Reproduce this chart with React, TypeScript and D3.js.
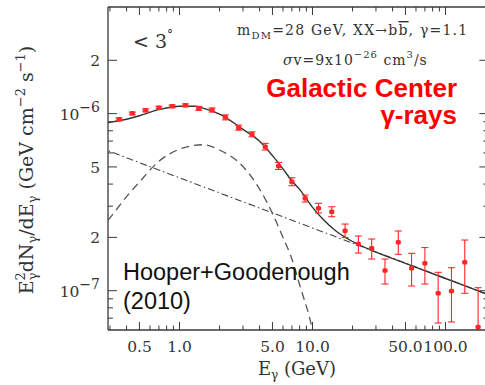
import React from "react";
import * as d3 from "d3";

// Binned Fermi-LAT spectrum, inner 3 degrees (E in GeV, E^2 dN/dE in GeV cm^-2 s^-1)
const energies = [
  0.351, 0.442, 0.556, 0.7, 0.881, 1.109, 1.396, 1.758, 2.213, 2.786, 3.508, 4.416, 5.559, 6.998,
  8.81, 11.09, 13.96, 17.58, 22.13, 27.86, 35.08, 44.16, 55.59, 69.98, 88.1, 110.9, 139.6, 175.8,
];
const fluxes = [
  0.929e-6, 1.004e-6, 1.044e-6, 1.08e-6, 1.1e-6, 1.114e-6, 1.071e-6, 1.048e-6, 0.953e-6, 0.833e-6,
  0.764e-6, 0.65e-6, 0.506e-6, 0.4125e-6, 0.333e-6, 0.292e-6, 0.279e-6, 0.218e-6, 0.1835e-6,
  0.1735e-6, 0.13e-6, 0.1876e-6, 0.1338e-6, 0.1428e-6, 0.0967e-6, 0.0996e-6, 0.1447e-6, 0.0624e-6,
];
const fluxHigh = [
  0.947e-6, 1.02e-6, 1.064e-6, 1.1e-6, 1.12e-6, 1.135e-6, 1.099e-6, 1.076e-6, 0.984e-6, 0.861e-6,
  0.789e-6, 0.679e-6, 0.53e-6, 0.4345e-6, 0.347e-6, 0.3115e-6, 0.298e-6, 0.2379e-6, 0.2036e-6,
  0.1958e-6, 0.151e-6, 0.2174e-6, 0.1626e-6, 0.1753e-6, 0.127e-6, 0.1349e-6, 0.1933e-6, 0.104e-6,
];
const fluxLow = [
  0.911e-6, 0.984e-6, 1.024e-6, 1.06e-6, 1.08e-6, 1.093e-6, 1.044e-6, 1.021e-6, 0.922e-6, 0.806e-6,
  0.74e-6, 0.623e-6, 0.484e-6, 0.3916e-6, 0.3168e-6, 0.2747e-6, 0.2617e-6, 0.1997e-6, 0.1632e-6,
  0.151e-6, 0.1091e-6, 0.1605e-6, 0.1063e-6, 0.1091e-6, 0.0657e-6, 0.0666e-6, 0.0967e-6, 0.035e-6,
];

// Dark matter annihilation component (dashed)
const dmEnergies = [0.25, 0.3, 0.4, 0.5, 0.7, 1.0, 1.5, 2, 3, 4, 5, 6, 7, 8, 10, 10.5];
const dmFlux = [
  2.2e-7, 2.58e-7, 3.4e-7, 4.11e-7, 5.38e-7, 6.3e-7, 6.67e-7, 6.23e-7, 5.03e-7, 3.75e-7, 2.73e-7,
  2.0e-7, 1.51e-7, 1.08e-7, 6.0e-8, 5.0e-8,
];

// Astrophysical background power law (dash-dot)
const bgEnergies = [0.25, 0.29, 10, 200, 230];
const bgFlux = [6.45e-7, 6.18e-7, 2.26e-7, 9.63e-8, 9.25e-8];

// Total model (solid)
const totEnergies = [
  0.25, 0.29, 0.4, 0.5, 0.7, 1.0, 1.3, 1.5, 2, 3, 4, 5, 6, 7, 8, 10, 12, 15, 20, 30, 50, 100, 200, 230,
];
const totFlux = [
  8.8e-7, 8.9e-7, 9.29e-7, 9.73e-7, 1.053e-6, 1.101e-6, 1.1e-6, 1.074e-6, 0.9935e-6, 0.8155e-6,
  0.6977e-6, 0.5793e-6, 0.488e-6, 0.4163e-6, 0.3735e-6, 0.2954e-6, 0.2533e-6, 0.2174e-6, 0.1896e-6,
  0.1652e-6, 0.1428e-6, 0.1172e-6, 0.0963e-6, 0.0925e-6,
];

const xTickValues = [0.5, 1, 5, 10, 50, 100];
const xTickLabels = ["0.5", "1.0", "5.0", "10.0", "50.0", "100.0"];
const yTickValues = [2e-6, 1e-6, 5e-7, 2e-7, 1e-7];
const yTickMantissa = ["2", "10", "5", "2", "10"];
const yTickExponent = ["", "\u22126", "", "", "\u22127"];

const W = 485;
const H = 385;
const left = 108;
const top = 7;
const bottom = 330;
const decade = 133;
const xMin = 0.29;
const xMax = 210;

const x = d3
  .scaleLog()
  .domain([xMin, xMax])
  .range([left, left + decade * Math.log10(xMax / xMin)]);
const y = d3.scaleLog().domain([6e-8, 4e-6]).range([bottom, top]);
const right = x(xMax);

const serif = "'DejaVu Serif', serif";
const sans = "'Liberation Sans', Arial, sans-serif";
const axisColor = "#3a3a3a";
const red = "#ff2626";

function curve(es: number[], vs: number[]) {
  const line = d3
    .line<number>()
    .x((_, i) => x(es[i]))
    .y((v) => y(v))
    .curve(d3.curveMonotoneX);
  return line(vs) || "";
}

export default function App() {
  const xMinor = x.ticks().filter((t) => t > xMin && t < xMax);
  const yMinor = y.ticks().filter((t) => t > 6e-8 && t < 2.5e-6);
  const isMajorX = (t: number) => xTickValues.some((v) => Math.abs(v - t) / v < 1e-6);
  const isMajorY = (t: number) => yTickValues.some((v) => Math.abs(v - t) / v < 1e-6);

  return (
    <svg
      width={W}
      height={H}
      style={{ position: "absolute", left: 0, top: 0, background: "#fff" }}
    >
      <defs>
        <clipPath id="plotArea">
          <rect x={left} y={top} width={right - left} height={bottom - top} />
        </clipPath>
      </defs>

      {/* model curves */}
      <g clipPath="url(#plotArea)" fill="none">
        <path
          d={curve(bgEnergies, bgFlux)}
          stroke="#444"
          strokeWidth={1.1}
          strokeDasharray="7 3 1.5 3"
        />
        <path
          d={curve(dmEnergies, dmFlux)}
          stroke="#555"
          strokeWidth={1.3}
          strokeDasharray="8 5"
        />
        <path d={curve(totEnergies, totFlux)} stroke="#333" strokeWidth={1.4} />
      </g>

      {/* data with error bars */}
      <g clipPath="url(#plotArea)">
        {energies.map((e, i) => {
          const cx = x(e);
          const yh = y(fluxHigh[i]);
          const yl = y(fluxLow[i]);
          return (
            <g key={i}>
              <line x1={cx} x2={cx} y1={yh} y2={yl} stroke={red} strokeWidth={1.1} />
              <line x1={cx - 3.5} x2={cx + 3.5} y1={yh} y2={yh} stroke={red} strokeWidth={1.1} />
              <line x1={cx - 3.5} x2={cx + 3.5} y1={yl} y2={yl} stroke={red} strokeWidth={1.1} />
              <rect
                x={cx - 2.6}
                y={y(fluxes[i]) - 2.3}
                width={5.2}
                height={4.6}
                rx={1.5}
                fill={red}
              />
            </g>
          );
        })}
      </g>

      {/* frame */}
      <g stroke={axisColor} strokeWidth={1.3} fill="none">
        <line x1={left} x2={left} y1={top} y2={bottom} />
        <line x1={left} x2={right} y1={bottom} y2={bottom} />
        <line x1={left} x2={right} y1={top} y2={top} />
        <line x1={right} x2={right} y1={top} y2={bottom} />
      </g>

      {/* ticks on all four sides */}
      <g stroke={axisColor} strokeWidth={1}>
        {xMinor.map((t, i) => {
          const len = isMajorX(t) ? 8 : 4.5;
          const px = x(t);
          return (
            <g key={i}>
              <line x1={px} x2={px} y1={bottom} y2={bottom - len} />
              <line x1={px} x2={px} y1={top} y2={top + len} />
            </g>
          );
        })}
        {yMinor.map((t, i) => {
          const len = isMajorY(t) ? 9 : 5;
          const py = y(t);
          return (
            <g key={i}>
              <line x1={left} x2={left + len} y1={py} y2={py} />
              <line x1={right} x2={right - len} y1={py} y2={py} />
            </g>
          );
        })}
      </g>

      {/* tick labels */}
      <g fontFamily={serif} fill="#333">
        {xTickValues.map((t, i) => (
          <text key={i} x={x(t)} y={352} textAnchor="middle" fontSize={15.5}>
            {xTickLabels[i]}
          </text>
        ))}
        {yTickValues.map((t, i) => (
          <text key={i} x={100} y={y(t) + 6} textAnchor="end" fontSize={15.5}>
            {yTickMantissa[i]}
            {yTickExponent[i] ? (
              <tspan dy={-8} fontSize={14}>
                {yTickExponent[i]}
              </tspan>
            ) : null}
          </text>
        ))}
      </g>

      {/* axis titles */}
      <text x={297} y={375} textAnchor="middle" fontFamily={serif} fontSize={18} fill="#333">
        E
        <tspan dy={4} fontSize={12}>
          γ
        </tspan>
        <tspan dy={-4}> (GeV)</tspan>
      </text>
      <text
        transform="translate(33,170) rotate(-90)"
        textAnchor="middle"
        fontFamily={serif}
        fontSize={19}
        fill="#333"
      >
        E
        <tspan dy={-8} fontSize={13}>
          2
        </tspan>
        <tspan dx={-8} dy={12} fontSize={13}>
          γ
        </tspan>
        <tspan dy={-4}>dN</tspan>
        <tspan dy={4} fontSize={13}>
          γ
        </tspan>
        <tspan dy={-4}>/dE</tspan>
        <tspan dy={4} fontSize={13}>
          γ
        </tspan>
        <tspan dy={-4}>{"  (GeV cm"}</tspan>
        <tspan dy={-8} fontSize={13}>
          −2
        </tspan>
        <tspan dy={8}> s</tspan>
        <tspan dy={-8} fontSize={13}>
          −1
        </tspan>
        <tspan dy={8}>)</tspan>
      </text>

      {/* annotations */}
      <text x={133} y={48} fontFamily={serif} fontSize={19} fill="#333">
        {"< 3"}
        <tspan dy={-9} fontSize={12}>
          °
        </tspan>
      </text>
      <text x={237} y={35} fontFamily={serif} fontSize={14} letterSpacing={1.2} fill="#333">
        m
        <tspan dy={4} fontSize={10}>
          DM
        </tspan>
        <tspan dy={-4}>=28 GeV, XX→b</tspan>
        <tspan style={{ textDecoration: "overline" }}>b</tspan>
        <tspan>, γ=1.1</tspan>
      </text>
      <text x={283} y={65} fontFamily={serif} fontSize={14} letterSpacing={1} fill="#333">
        <tspan fontStyle="italic">σ</tspan>v=9x10
        <tspan dy={-7} fontSize={10}>
          −26
        </tspan>
        <tspan dy={7}> cm</tspan>
        <tspan dy={-7} fontSize={10}>
          3
        </tspan>
        <tspan dy={7}>/s</tspan>
      </text>
      <g fontFamily={sans} fontWeight="bold" fontSize={26} fill="#ff0000" textAnchor="end">
        <text x={457} y={97}>
          Galactic Center
        </text>
        <text x={457} y={124}>
          γ-rays
        </text>
      </g>
      <g fontFamily={sans} fontSize={23.5} fill="#111">
        <text x={123} y={280}>
          Hooper+Goodenough
        </text>
        <text x={123} y={309}>
          (2010)
        </text>
      </g>
    </svg>
  );
}
